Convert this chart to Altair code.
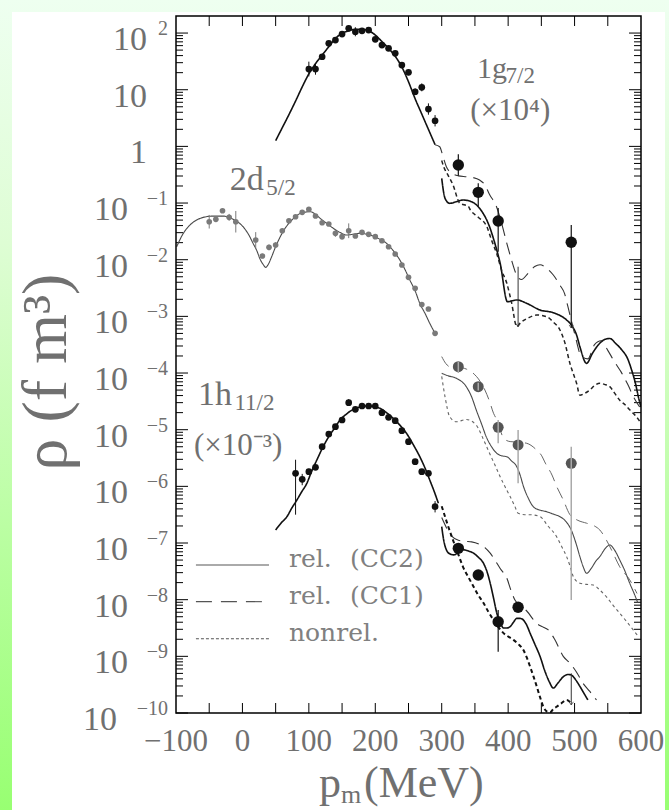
import altair as alt
import pandas as pd
import numpy as np

# ---------------- measured momentum distributions (log10 of rho) ----------------
# 1g7/2 state, scaled by 1e4
g_p = [100, 110, 120, 130, 140, 150, 160, 170, 180, 190,
       200, 210, 220, 230, 240, 250, 260, 270, 280, 290]
g_log = [1.365, 1.365, 1.582, 1.818, 1.876, 1.982, 2.083, 2.023, 2.040, 2.053,
         1.889, 1.788, 1.730, 1.642, 1.435, 1.307, 0.964, 1.042, 0.659, 0.452]
g_err = [0.13, 0.10, 0.04, 0.03, 0.03, 0.03, 0.05, 0.08, 0.04, 0.04,
         0.03, 0.03, 0.03, 0.04, 0.04, 0.05, 0.06, 0.07, 0.10, 0.10]

# 2d5/2 state
d_p = [-50, -40, -30, -20, -10, 20, 30, 40, 50, 60, 70, 80, 90, 100, 110, 120, 130,
       140, 150, 160, 170, 180, 190, 200, 210, 220, 230, 240, 250, 260, 270, 280, 290]
d_log = [-1.330, -1.288, -1.136, -1.252, -1.330, -1.653, -1.935, -1.782, -1.741,
         -1.489, -1.312, -1.242, -1.164, -1.111, -1.229, -1.347, -1.370, -1.535,
         -1.594, -1.489, -1.582, -1.517, -1.552, -1.594, -1.665, -1.771, -1.900,
         -2.094, -2.311, -2.505, -2.791, -2.870, -3.299]
d_err = [0.12, 0.03, 0.03, 0.06, 0.19, 0.14, 0.04, 0.05, 0.05, 0.03, 0.03, 0.03,
         0.03, 0.03, 0.03, 0.03, 0.03, 0.06, 0.05, 0.13, 0.03, 0.03, 0.03, 0.03,
         0.03, 0.03, 0.03, 0.03, 0.03, 0.03, 0.03, 0.03, 0.03]

# 1h11/2 state, scaled by 1e-3
h_p = [80, 90, 100, 110, 120, 130, 140, 150, 160, 170, 180,
       190, 200, 210, 220, 230, 240, 250, 260, 270, 280, 290]
h_log = [-5.770, -5.876, -5.741, -5.664, -5.300, -5.076, -4.947, -4.829, -4.523,
         -4.640, -4.582, -4.582, -4.582, -4.700, -4.782, -4.841, -5.018, -5.212,
         -5.565, -5.741, -5.770, -6.359]
h_hi = [-5.53, -5.78, -5.69, -5.62, -5.26, -5.04, -4.92, -4.80, -4.46, -4.61, -4.55,
        -4.55, -4.55, -4.67, -4.75, -4.81, -4.99, -5.18, -5.52, -5.70, -5.73, -6.26]
h_lo = [-6.50, -5.98, -5.79, -5.71, -5.34, -5.11, -4.98, -4.86, -4.58, -4.67, -4.61,
        -4.61, -4.61, -4.73, -4.81, -4.87, -5.05, -5.25, -5.61, -5.78, -5.81, -6.46]

# high missing-momentum points: p, value, upper and lower end of error bar
gt_p = [325, 355, 385, 495]
gt_log = [-0.329, -0.811, -1.317, -1.693]
gt_hi = [-0.14, -0.652, -1.088, -1.388]
gt_lo = [-0.52, -1.065, -1.859, -3.206]

dt_p = [325, 355, 385, 415, 495]
dt_log = [-3.888, -4.241, -4.958, -5.270, -5.593]
dt_hi = [-3.80, -4.17, -4.829, -5.006, -5.30]
dt_lo = [-4.00, -4.31, -5.24, -5.946, -8.006]

ht_p = [325, 355, 385, 415]
ht_log = [-7.094, -7.565, -8.388, -8.135]
ht_hi = [-7.02, -7.49, -8.18, -8.06]
ht_lo = [-7.17, -7.64, -8.917, -8.21]

# upper limits (bar with arrow, no marker)
lim_p = [415, 495]
lim_hi = [-2.124, -9.30]
lim_lo = [-3.183, -9.858]

# ---------------- calculated curves ----------------
g_low_p = [50, 60, 70, 80, 90, 100, 110, 120, 130, 140, 150, 160, 170, 180, 190,
           200, 210, 220, 230, 240, 250, 260, 270, 280, 290]
g_low = [0.10, 0.33, 0.56, 0.80, 1.05, 1.28, 1.46, 1.612, 1.758, 1.906, 1.994, 2.04,
         2.065, 2.065, 2.04, 1.965, 1.85, 1.73, 1.59, 1.40, 1.14, 0.84, 0.57, 0.30, 0.03]

g_cc2_p = [300, 305, 312, 322, 332, 345, 357, 372, 380, 388, 399, 413, 428, 448, 468,
           488, 495, 503, 508, 518, 527, 536, 545, 553, 562, 571, 580, 586, 592, 596, 600]
g_cc2 = [-0.564, -0.917, -1.005, -0.977, -0.947, -0.977, -1.093, -1.418, -1.711,
         -2.064, -2.742, -2.71, -2.77, -2.888, -2.936, -3.064, -3.15, -3.329, -3.535,
         -3.829, -3.65, -3.5, -3.41, -3.39, -3.48, -3.59, -3.75, -3.95, -4.2, -4.42, -4.6]

g_cc1_p = [290, 297, 302, 307, 315, 325, 337, 347, 357, 365, 372, 382, 390, 398, 405,
           412, 420, 430, 440, 448, 458, 468, 478, 485, 490, 500, 510, 520, 530, 540,
           550, 560, 570, 580, 590, 598]
g_cc1 = [0.03, -0.006, -0.18, -0.36, -0.47, -0.52, -0.536, -0.55, -0.594, -0.68,
         -0.85, -1.05, -1.35, -1.71, -2.0, -2.25, -2.35, -2.24, -2.12, -2.09, -2.15,
         -2.27, -2.45, -2.6, -2.83, -3.3, -3.7, -3.75, -3.5, -3.43, -3.6, -3.8, -3.98,
         -4.2, -4.45, -4.6]

g_nr_p = [300, 303, 310, 317, 327, 340, 343, 355, 368, 375, 383, 390, 398, 405, 413,
          418, 430, 443, 458, 468, 478, 485, 493, 503, 508, 515, 523, 530, 538, 545,
          553, 560, 568, 576, 583, 593, 598]
g_nr = [-0.25, -0.36, -0.52, -0.68, -1.0, -1.06, -1.12, -1.25, -1.418, -1.653, -1.9,
        -2.18, -2.417, -2.75, -3.18, -3.12, -3.03, -2.976, -3.006, -3.1, -3.24, -3.45,
        -3.83, -4.18, -4.39, -4.36, -4.30, -4.22, -4.18, -4.2, -4.24, -4.35, -4.48,
        -4.56, -4.65, -4.77, -4.85]

d_low_p = [-99, -89, -79, -69, -59, -44, -29, -14, 1, 9, 16, 22, 26, 31, 35, 39, 44,
           50, 57, 64, 72, 80, 87, 95, 102, 110, 117, 127, 137, 147, 157, 167, 177,
           187, 197, 207, 217, 227, 237, 245, 252, 260, 267, 275, 282, 290]
d_low = [-1.77, -1.535, -1.388, -1.30, -1.253, -1.23, -1.23, -1.288, -1.418, -1.55,
         -1.711, -1.85, -1.976, -2.08, -2.135, -2.08, -1.947, -1.77, -1.594, -1.45,
         -1.33, -1.24, -1.182, -1.16, -1.153, -1.2, -1.27, -1.36, -1.447, -1.52,
         -1.564, -1.55, -1.535, -1.55, -1.582, -1.64, -1.711, -1.84, -2.006, -2.18,
         -2.359, -2.55, -2.77, -2.95, -3.123, -3.3]

d_cc2_p = [300, 310, 322, 337, 345, 352, 360, 367, 375, 383, 390, 398, 405, 413, 418,
           423, 430, 438, 448, 458, 468, 478, 487, 495, 502, 508, 513, 518, 525, 532,
           538, 546, 553, 560, 568, 576, 583, 590, 595]
d_cc2 = [-4.005, -4.05, -4.093, -4.241, -4.42, -4.653, -4.9, -5.124, -5.3, -5.417,
         -5.46, -5.477, -5.55, -5.653, -5.8, -6.0, -6.2, -6.36, -6.42, -6.447, -6.49,
         -6.535, -6.62, -6.77, -7.0, -7.24, -7.42, -7.534, -7.45, -7.32, -7.24, -7.1,
         -7.035, -7.12, -7.30, -7.5, -7.71, -7.9, -8.05]

d_cc1_p = [300, 306, 315, 325, 337, 347, 358, 365, 372, 378, 383, 388, 393, 403, 415,
           428, 443, 450, 456, 466, 473, 483, 493, 505, 518, 530, 538, 548, 558, 568,
           583, 594]
d_cc1 = [-3.71, -3.83, -3.9, -3.9, -3.93, -4.0, -4.15, -4.3, -4.5, -4.71, -4.83, -5.0,
         -5.15, -5.21, -5.22, -5.24, -5.36, -5.45, -5.59, -5.8, -6.0, -6.24, -6.5,
         -6.6, -6.65, -6.7, -6.77, -6.95, -7.18, -7.42, -7.65, -7.89]

d_nr_p = [300, 305, 312, 322, 337, 352, 362, 372, 380, 388, 395, 403, 410, 415, 425,
          433, 448, 460, 473, 480, 488, 493, 498, 508, 518, 528, 538, 548, 558, 568,
          578, 588, 596]
d_nr = [-4.06, -4.42, -4.77, -4.86, -4.82, -4.92, -5.15, -5.417, -5.62, -5.83, -6.0,
        -6.18, -6.35, -6.475, -6.5, -6.5, -6.535, -6.7, -6.89, -7.05, -7.24, -7.4,
        -7.59, -7.71, -7.73, -7.74, -7.83, -7.95, -8.1, -8.24, -8.38, -8.53, -8.65]

h_low_p = [50, 58, 67, 74, 82, 89, 97, 104, 112, 119, 127, 137, 147, 157, 167, 177,
           187, 197, 207, 217, 227, 237, 247, 257, 267, 275, 282, 289, 295]
h_low = [-6.77, -6.65, -6.535, -6.39, -6.241, -6.1, -5.946, -5.74, -5.535, -5.36,
         -5.182, -5.0, -4.829, -4.72, -4.64, -4.6, -4.582, -4.59, -4.623, -4.70,
         -4.80, -4.92, -5.064, -5.26, -5.477, -5.68, -5.888, -6.1, -6.30]

h_cc2_p = [300, 303, 307, 312, 318, 325, 332, 340, 348, 355, 363, 368, 373, 378, 383,
           388, 393, 398, 403, 408, 413, 418, 423, 428, 433, 440, 448, 455, 462, 468,
           475, 483, 490, 495, 502, 508, 514, 520]
h_cc2 = [-6.71, -6.95, -7.12, -7.19, -7.21, -7.17, -7.12, -7.14, -7.18, -7.25, -7.36,
         -7.5, -7.71, -7.97, -8.24, -8.4, -8.5, -8.5, -8.476, -8.4, -8.33, -8.33, -8.36,
         -8.45, -8.59, -8.78, -9.0, -9.25, -9.45, -9.56, -9.47, -9.36, -9.32, -9.33,
         -9.42, -9.53, -9.65, -9.77]

h_cc1_p = [300, 308, 315, 325, 335, 345, 358, 365, 373, 380, 388, 398, 405, 410, 418,
           428, 443, 452, 460, 470, 483, 493, 503, 513, 523, 533]
h_cc1 = [-6.55, -6.75, -6.88, -6.95, -6.97, -6.98, -7.03, -7.08, -7.18, -7.3, -7.45,
         -7.62, -7.86, -8.0, -8.1, -8.2, -8.42, -8.48, -8.53, -8.7, -9.0, -9.12, -9.28,
         -9.48, -9.62, -9.77]

h_nr_p = [300, 309, 317, 325, 332, 340, 348, 355, 363, 370, 378, 385, 393, 400, 408,
          415, 423, 428, 433, 438, 443, 448, 453, 458, 463, 468, 473, 480, 488, 495]
h_nr = [-6.35, -6.68, -6.95, -7.2, -7.42, -7.6, -7.77, -7.92, -8.06, -8.21, -8.36,
        -8.48, -8.59, -8.65, -8.71, -8.78, -8.89, -9.02, -9.18, -9.35, -9.53, -9.72,
        -9.89, -9.97, -9.99, -9.93, -9.89, -9.83, -9.77, -9.83]

# axis ticks and labels
x_label_values = [-100, 0, 100, 200, 300, 400, 500, 600]
x_label_text = ["\u2212100", "0", "100", "200", "300", "400", "500", "600"]
x_tick_values = list(range(-50, 600, 50))
y_decades = list(range(-10, 3))

# ---------------- layout ----------------
W, H = 465, 697
INK = "#111111"
GREY_PT = "#7a7a7a"
GREY_LN = "#4a4a4a"
TXT = "#707070"
SERIF = "Liberation Serif"
LEGEND_FONT = "DejaVu Serif"

xs = alt.Scale(domain=[-100, 600], nice=False, zero=False)
ys = alt.Scale(type="log", domain=[1e-10, 200], nice=False)
X = alt.X("p:Q", scale=xs, axis=None)
Y = alt.Y("rho:Q", scale=ys, axis=None)


def curve(name, p, logv):
    return pd.DataFrame({"name": name, "p": p, "rho": np.power(10.0, logv)})


def lines(frames, dash, color, width):
    df = pd.concat(frames, ignore_index=True)
    return alt.Chart(df).mark_line(
        strokeDash=dash, color=color, strokeWidth=width, clip=True,
        interpolate="monotone"
    ).encode(x=X, y=Y, detail="name:N")


def points(p, logv, hi, lo, color, size, barw, barcolor=None):
    df = pd.DataFrame({"p": p, "rho": np.power(10.0, logv),
                       "hi": np.power(10.0, hi), "lo": np.power(10.0, lo)})
    bars = alt.Chart(df).mark_rule(color=barcolor or color, strokeWidth=barw).encode(
        x=X, y=alt.Y("lo:Q", scale=ys, axis=None), y2="hi:Q")
    dots = alt.Chart(df).mark_circle(color=color, size=size, opacity=1).encode(x=X, y=Y)
    return (dots + bars) if barcolor else (bars + dots)


def sym(p, logv, err):
    hi = [v + e for v, e in zip(logv, err)]
    lo = [v - e for v, e in zip(logv, err)]
    return hi, lo


one = pd.DataFrame({"k": [0]})

# page background: green gradient with a white sheet on top
bg = alt.Chart(one).mark_rect(
    fill=alt.Gradient(gradient="linear",
                      stops=[alt.GradientStop(color="#eefff0", offset=0),
                             alt.GradientStop(color="#defdd4", offset=0.3),
                             alt.GradientStop(color="#98ff72", offset=1)],
                      x1=0, x2=0, y1=0, y2=1)
).encode(x=alt.value(-176), x2=alt.value(W + 28), y=alt.value(-16), y2=alt.value(H + 97))
sheet = alt.Chart(one).mark_rect(fill="white").encode(
    x=alt.value(-164), x2=alt.value(W + 24), y=alt.value(-4), y2=alt.value(H + 97))

# tick marks on all four sides, pointing inward
ymaj = pd.DataFrame({"v": [10.0 ** k for k in y_decades]})
ymin = pd.DataFrame({"v": [m * 10.0 ** k for k in y_decades[:-1] for m in range(2, 10)]})
xt = pd.DataFrame({"p": x_tick_values})
tick_layers = []
for df, ln in ((ymaj, 12), (ymin, 7)):
    yy = alt.Y("v:Q", scale=ys, axis=None)
    tick_layers.append(alt.Chart(df).mark_rule(color="black", strokeWidth=1).encode(
        y=yy, x=alt.value(0), x2=alt.value(ln)))
    tick_layers.append(alt.Chart(df).mark_rule(color="black", strokeWidth=1).encode(
        y=yy, x=alt.value(W), x2=alt.value(W - ln)))
tick_layers.append(alt.Chart(xt).mark_rule(color="black", strokeWidth=1).encode(
    x=X, y=alt.value(0), y2=alt.value(10)))
tick_layers.append(alt.Chart(xt).mark_rule(color="black", strokeWidth=1).encode(
    x=X, y=alt.value(H), y2=alt.value(H - 10)))

# x axis labels
xlab = alt.Chart(pd.DataFrame({"p": x_label_values, "t": x_label_text})).mark_text(
    align="center", baseline="alphabetic", font=SERIF, fontSize=31, color=TXT
).encode(x=X, y=alt.value(H + 38), text="t:N")

# y axis labels: "10" with a raised exponent
ylab_df = pd.DataFrame({
    "v": [10.0 ** k for k in y_decades],
    "base": ["1" if k == 0 else "10" for k in y_decades],
    "sup": ["" if k in (0, 1) else ("\u2212" + str(-k) if k < 0 else str(k)) for k in y_decades],
    "cls": ["a" if k >= 0 else ("b" if k > -10 else "c") for k in y_decades],
})
yl = []
for cls, off in (("a", -29), ("b", -48), ("c", -59)):
    yl.append(alt.Chart(ylab_df).transform_filter(f"datum.cls == '{cls}'").mark_text(
        align="right", baseline="alphabetic", dy=17, font=SERIF, fontSize=34, color=TXT
    ).encode(x=alt.value(off), y=alt.Y("v:Q", scale=ys, axis=None), text="base:N"))
yl.append(alt.Chart(ylab_df).transform_filter("datum.sup != ''").mark_text(
    align="right", baseline="alphabetic", dy=2, font=SERIF, fontSize=20, color=TXT
).encode(x=alt.value(-8), y=alt.Y("v:Q", scale=ys, axis=None), text="sup:N"))


def label(text, p, rho, size, font=SERIF, align="left", color=TXT):
    return alt.Chart(one).mark_text(
        text=text, align=align, baseline="alphabetic", font=font, fontSize=size, color=color
    ).encode(x=alt.datum(p), y=alt.datum(rho))


notes = [
    label("1g", 353, 10 ** 1.206, 30),
    label("7/2", 396, 10 ** 1.12, 23),
    label("(\u00d710\u2074)", 343, 10 ** 0.465, 31),
    label("2d", -19, 10 ** -0.77, 34),
    label("5/2", 36, 10 ** -0.86, 23),
    label("1h", -67, 10 ** -4.564, 34),
    label("11/2", -12, 10 ** -4.65, 23),
    label("(\u00d710\u207b\u00b3)", -73, 10 ** -5.447, 31),
]

# axis titles
titles = [
    alt.Chart(one).mark_text(text="p", align="left", baseline="alphabetic", font=SERIF,
                             fontSize=44, color=TXT).encode(x=alt.value(143), y=alt.value(781)),
    alt.Chart(one).mark_text(text="m", align="left", baseline="alphabetic", font=SERIF,
                             fontSize=26, color=TXT).encode(x=alt.value(165), y=alt.value(787)),
    alt.Chart(one).mark_text(text="(MeV)", align="left", baseline="alphabetic", font=SERIF,
                             fontSize=44, color=TXT).encode(x=alt.value(188), y=alt.value(781)),
    alt.Chart(one).mark_text(text="\u03c1  (f m\u00b3)", align="center", baseline="middle",
                             font=SERIF, fontSize=64, color=TXT, angle=270
                             ).encode(x=alt.value(-129), y=alt.value(356)),
]

# legend
leg = []
for head, tail, dash, lg in (("rel.", "(CC2)", [1, 0], -7.388),
                             ("rel.", "(CC1)", [16, 9], -8.035),
                             ("nonrel.", "", [3, 2], -8.69)):
    leg.append(alt.Chart(one).mark_rule(color="#555555", strokeWidth=1.1, strokeDash=dash).encode(
        x=alt.datum(-70), x2=alt.datum(40), y=alt.datum(10 ** lg)))
    leg.append(label(head, 70, 10 ** (lg - 0.04), 25, font=LEGEND_FONT, color="#808080"))
    if tail:
        leg.append(label(tail, 162, 10 ** (lg - 0.04), 25, font=LEGEND_FONT, color="#808080"))

# data
g_hi, g_lo = sym(g_p, g_log, g_err)
d_hi, d_lo = sym(d_p, d_log, d_err)
lim_df = pd.DataFrame({"p": lim_p, "hi": np.power(10.0, lim_hi), "lo": np.power(10.0, lim_lo)})
lim_bars = alt.Chart(lim_df).mark_rule(color="#333333", strokeWidth=1).encode(
    x=X, y=alt.Y("lo:Q", scale=ys, axis=None), y2="hi:Q")
arrow_df = pd.DataFrame({"p": [415, 495, 495], "rho": np.power(10.0, [lim_lo[0], gt_lo[3], lim_lo[1]])})
arrows = alt.Chart(arrow_df).mark_point(
    shape="M-0.7,-1L0,0L0.7,-1", filled=False, color="#333333", size=40, strokeWidth=1
).encode(x=X, y=Y)

curve_layers = [
    lines([curve("g_low", g_low_p, g_low), curve("g_cc2", g_cc2_p, g_cc2),
           curve("h_low", h_low_p, h_low), curve("h_cc2", h_cc2_p, h_cc2)], [1, 0], INK, 1.6),
    lines([curve("d_low", d_low_p, d_low), curve("d_cc2", d_cc2_p, d_cc2)], [1, 0], GREY_LN, 1.1),
    lines([curve("g_cc1", g_cc1_p, g_cc1), curve("h_cc1", h_cc1_p, h_cc1)], [12, 7], "#333333", 1.1),
    lines([curve("d_cc1", d_cc1_p, d_cc1)], [12, 7], "#666666", 1.0),
    lines([curve("g_nr", g_nr_p, g_nr)], [4, 3], "#222222", 1.5),
    lines([curve("d_nr", d_nr_p, d_nr)], [3, 3], "#666666", 1.1),
    lines([curve("h_nr", h_nr_p, h_nr)], [4, 3], "#111111", 2.0),
]

data_layers = [
    points(g_p, g_log, g_hi, g_lo, INK, 45, 1),
    points(d_p, d_log, d_hi, d_lo, GREY_PT, 32, 1),
    points(h_p, h_log, h_hi, h_lo, INK, 45, 1),
    points(gt_p, gt_log, gt_hi, gt_lo, INK, 130, 1.2),
    points(dt_p, dt_log, dt_hi, dt_lo, "#555555", 120, 1.5, barcolor="#aaaaaa"),
    points(ht_p, ht_log, ht_hi, ht_lo, INK, 130, 1.2),
    lim_bars, arrows,
]

frame = alt.Chart(one).mark_rect(fillOpacity=0, stroke="black", strokeWidth=1.5).encode(
    x=alt.value(0), x2=alt.value(W), y=alt.value(0), y2=alt.value(H))

chart = alt.layer(
    bg, sheet, *tick_layers, *curve_layers, *data_layers, xlab, *yl, *notes, *titles, *leg, frame
).properties(
    width=W, height=H,
    autosize=alt.AutoSizeParams(type="none"),
    padding={"left": 176, "top": 16, "right": 28, "bottom": 97},
    background="#eaffe2",
).configure_view(strokeWidth=0)

chart.save("out.html", embed_options={"renderer": "svg", "actions": False})
